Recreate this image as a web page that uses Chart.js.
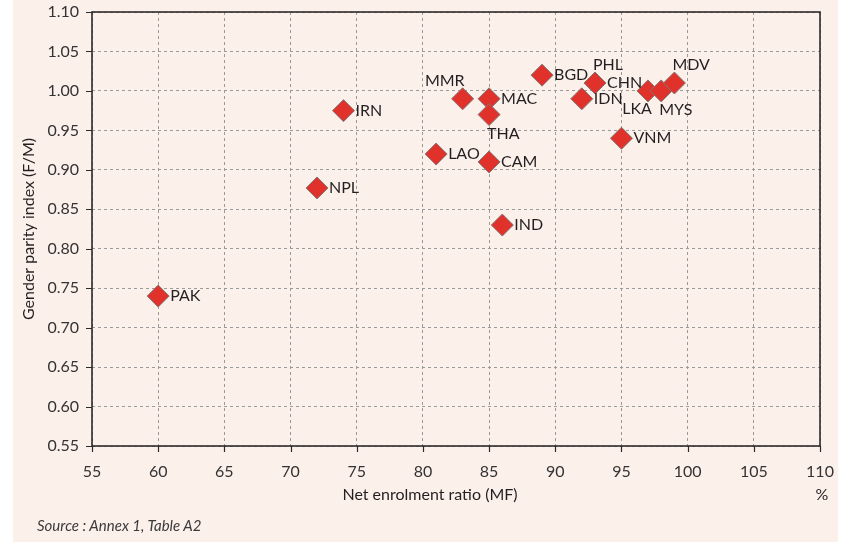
<!DOCTYPE html>
<html>
<head>
<meta charset="utf-8">
<script src="https://cdn.jsdelivr.net/npm/chart.js@4/dist/chart.umd.min.js"></script>
<style>
  html, body { margin: 0; padding: 0; background: #ffffff; }
  #panel { position: absolute; left: 13px; top: 0; width: 825px; height: 542px; background: #fcf0eb; }
  #wrap { position: absolute; left: 0; top: 0; width: 846px; height: 542px; }
  #source { position: absolute; left: 37px; top: 516px; font-family: Lato, sans-serif; font-style: italic;
            font-size: 15px; color: #3a3a3a; white-space: pre; }
</style>
</head>
<body>
<div id="panel"></div>
<div id="wrap"><canvas id="chart" width="846" height="542"></canvas></div>
<div id="source">Source : Annex 1, Table A2</div>
<script>
// Country codes with net enrolment ratio (%) and gender parity index (F/M)
const countries = ['PAK', 'NPL', 'IRN', 'LAO', 'CAM', 'IND', 'MMR', 'MAC', 'THA', 'BGD', 'PHL', 'CHN', 'IDN', 'LKA', 'MYS', 'MDV', 'VNM'];
const enrolment = [60, 72, 74, 81, 85, 86, 83, 85, 85, 89, 93, 93, 92, 97, 98, 99, 95];
const parity    = [0.74, 0.877, 0.975, 0.92, 0.91, 0.83, 0.99, 0.99, 0.97, 1.02, 1.01, 1.01, 0.99, 1.00, 1.00, 1.01, 0.94];

// Axis tick values
const xTicks = [55, 60, 65, 70, 75, 80, 85, 90, 95, 100, 105, 110];
const yTicks = [0.55, 0.60, 0.65, 0.70, 0.75, 0.80, 0.85, 0.90, 0.95, 1.00, 1.05, 1.10];

// Where each country code sits relative to its marker
const labelSide = {
  MMR: 'aboveLeft', THA: 'below', PHL: 'above', LKA: 'belowLeft', MYS: 'below', MDV: 'above'
};

const FONT = 'Lato, "Open Sans", sans-serif';
const INK = '#231f20';

const points = countries.map((c, i) => ({ x: enrolment[i], y: parity[i], code: c }));

const frameAndLabels = {
  id: 'frameAndLabels',
  afterDatasetsDraw(chart) {
    const { ctx, chartArea: a, scales: { x, y } } = chart;
    ctx.save();
    // tick marks
    ctx.strokeStyle = '#2b2b2b';
    ctx.lineWidth = 1.2;
    ctx.beginPath();
    xTicks.forEach(v => { const px = Math.round(x.getPixelForValue(v)) + 0.5; ctx.moveTo(px, a.bottom); ctx.lineTo(px, a.bottom + 6); });
    yTicks.forEach(v => { const py = Math.round(y.getPixelForValue(v)) + 0.5; ctx.moveTo(a.left - 6, py); ctx.lineTo(a.left, py); });
    ctx.stroke();
    // frame
    ctx.lineWidth = 1.6;
    ctx.strokeRect(a.left, a.top, a.right - a.left, a.bottom - a.top);

    // country labels
    ctx.fillStyle = INK;
    ctx.font = '16px ' + FONT;
    ctx.textBaseline = 'middle';
    const meta = chart.getDatasetMeta(0);
    meta.data.forEach((el, i) => {
      const code = countries[i];
      const side = labelSide[code] || 'right';
      let tx = el.x, ty = el.y;
      if (side === 'right') { ctx.textAlign = 'left'; tx += 12; }
      else if (side === 'above') { ctx.textAlign = 'left'; tx -= 2; ty -= 18; }
      else if (side === 'below') { ctx.textAlign = 'left'; tx -= 2; ty += 19; }
      else if (side === 'aboveLeft') { ctx.textAlign = 'right'; tx += 2; ty -= 18; }
      else if (side === 'belowLeft') { ctx.textAlign = 'right'; tx += 4; ty += 18; }
      ctx.fillText(code, tx, ty);
    });

    // x-axis title and unit
    ctx.textAlign = 'center';
    ctx.fillText('Net enrolment ratio (MF)', 430, 495);
    ctx.fillText('%', x.getPixelForValue(110) + 2, 495);
    ctx.restore();
  }
};

new Chart(document.getElementById('chart'), {
  type: 'scatter',
  data: {
    datasets: [{
      data: points,
      pointStyle: 'rectRot',
      pointRadius: 11,
      pointHoverRadius: 11,
      backgroundColor: '#e0322b',
      borderColor: '#807676',
      borderWidth: 1
    }]
  },
  options: {
    responsive: false,
    animation: false,
    layout: { padding: { top: 7, right: 26, bottom: 0, left: 0 } },
    plugins: { legend: { display: false }, tooltip: { enabled: false } },
    scales: {
      x: {
        type: 'linear', min: 55, max: 110,
        afterBuildTicks: s => { s.ticks = xTicks.map(v => ({ value: v })); },
        afterFit: s => { s.height = 96; s.paddingLeft = 0; s.paddingRight = 0; },
        ticks: { font: { family: FONT, size: 16 }, color: '#333', padding: 16, maxRotation: 0 },
        grid: { color: '#9a9a9a', lineWidth: 1, drawTicks: false },
        border: { display: false, dash: [3, 3] }
      },
      y: {
        type: 'linear', min: 0.55, max: 1.10,
        afterBuildTicks: s => { s.ticks = yTicks.map(v => ({ value: v })); },
        afterFit: s => { s.width = 92; s.paddingTop = 0; s.paddingBottom = 0; },
        ticks: { font: { family: FONT, size: 16 }, color: '#333', padding: 13, callback: v => v.toFixed(2) },
        grid: { color: '#9a9a9a', lineWidth: 1, drawTicks: false },
        border: { display: false, dash: [3, 3] },
        title: { display: true, text: 'Gender parity index (F/M)', font: { family: FONT, size: 16 }, color: INK, padding: { top: 19, bottom: 0 } }
      }
    }
  },
  plugins: [frameAndLabels]
});
</script>
</body>
</html>
